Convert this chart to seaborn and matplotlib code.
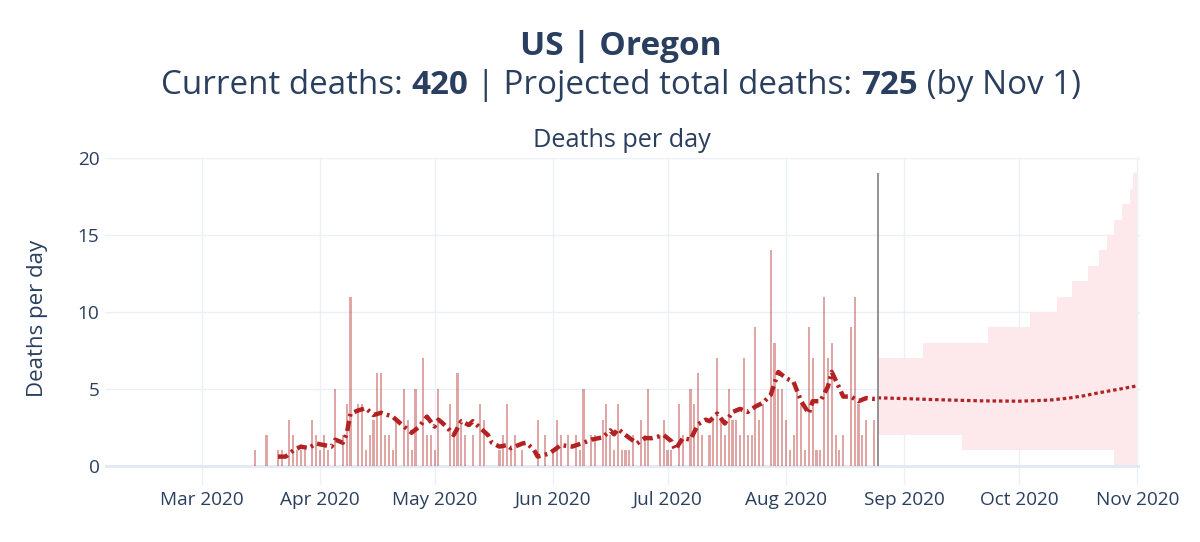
import numpy as np
import pandas as pd
import matplotlib
matplotlib.use("Agg")
import matplotlib.pyplot as plt
import matplotlib.dates as mdates
import seaborn as sns

# ── data ────────────────────────────────────────────────
FIRST_DAY = "2020-03-15"
daily_deaths = [
    1, 0, 0, 2, 0, 0, 1, 1, 0, 3, 2, 1, 1, 1, 0, 3, 2,            # Mar 15-31
    1, 2, 1, 0, 5, 0, 2, 4, 11, 0, 4, 4, 1, 2, 3, 6, 6, 2, 2, 1,  # Apr 1-20
    3, 0, 5, 3, 1, 5, 0, 7, 2, 2,                                 # Apr 21-30
    1, 5, 0, 0, 4, 2, 6, 3, 2, 0, 2, 0, 4, 3, 0, 0, 0, 1, 2, 4,   # May 1-20
    1, 2, 0, 1, 0, 0, 0, 3, 0, 2, 0,                              # May 21-31
    1, 3, 2, 0, 2, 0, 2, 1, 5, 0, 2, 2, 0, 3, 4, 2, 1, 4, 1, 1,   # Jun 1-20
    1, 2, 0, 3, 2, 5, 0, 0, 2, 3,                                 # Jun 21-30
    1, 1, 0, 4, 2, 0, 5, 4, 6, 2, 0, 2, 3, 7, 3, 2, 5, 3, 3, 2,   # Jul 1-20
    7, 2, 2, 9, 3, 4, 0, 14, 8, 5, 5,                             # Jul 21-31
    3, 1, 2, 5, 4, 1, 9, 7, 1, 1, 11, 7, 8, 2, 1, 2, 0, 9, 11, 4, # Aug 1-20
    2, 3, 0, 3,                                                   # Aug 21-24
]

avg_dates = [
    "2020-03-21", "2020-03-23", "2020-03-25", "2020-03-27", "2020-03-29", "2020-03-31",
    "2020-04-02", "2020-04-04", "2020-04-05", "2020-04-07", "2020-04-08", "2020-04-09",
    "2020-04-11", "2020-04-13", "2020-04-15", "2020-04-17", "2020-04-20", "2020-04-23",
    "2020-04-25", "2020-04-27", "2020-04-29", "2020-05-01", "2020-05-02", "2020-05-03",
    "2020-05-05", "2020-05-06", "2020-05-07", "2020-05-08", "2020-05-10", "2020-05-11",
    "2020-05-13", "2020-05-15", "2020-05-16", "2020-05-18", "2020-05-20", "2020-05-21",
    "2020-05-24", "2020-05-25", "2020-05-27", "2020-05-28", "2020-05-31", "2020-06-02",
    "2020-06-03", "2020-06-06", "2020-06-09", "2020-06-11", "2020-06-12", "2020-06-14",
    "2020-06-16", "2020-06-17", "2020-06-18", "2020-06-20", "2020-06-23", "2020-06-25",
    "2020-06-27", "2020-06-30", "2020-07-02", "2020-07-03", "2020-07-05", "2020-07-07",
    "2020-07-09", "2020-07-11", "2020-07-12", "2020-07-14", "2020-07-16", "2020-07-18",
    "2020-07-20", "2020-07-22", "2020-07-24", "2020-07-26", "2020-07-28", "2020-07-30",
    "2020-08-01", "2020-08-03", "2020-08-05", "2020-08-07", "2020-08-08", "2020-08-10",
    "2020-08-12", "2020-08-13", "2020-08-15", "2020-08-16", "2020-08-18", "2020-08-20",
    "2020-08-22", "2020-08-24", "2020-08-25",
]
avg_values = [
    0.6, 0.6, 1.0, 1.25, 1.15, 1.45,
    1.35, 1.25, 1.7, 1.5, 2.1, 3.4,
    3.6, 3.75, 3.3, 3.45, 3.2, 2.55,
    2.15, 2.55, 3.2, 2.55, 3.0, 2.8,
    2.3, 2.0, 2.45, 2.9, 2.65, 2.9,
    2.45, 2.0, 1.5, 1.25, 1.35, 1.15,
    1.45, 1.5, 1.05, 0.6, 0.8, 1.15,
    1.35, 1.25, 1.5, 1.7, 1.75, 1.85,
    2.3, 2.05, 2.4, 2.0, 1.45, 1.8,
    1.8, 2.0, 1.6, 1.05, 1.8, 1.7,
    2.7, 3.0, 2.9, 3.4, 2.75, 3.5,
    3.7, 3.5, 3.85, 4.1, 4.6, 6.1,
    5.7, 5.45, 4.2, 3.4, 4.2, 4.2,
    5.15, 6.1, 5.05, 4.5, 4.5, 4.2,
    4.4, 4.35, 4.35,
]

LAST_DATA_DAY = "2020-08-25"
proj_dates = ["2020-08-25", "2020-09-01", "2020-09-08", "2020-09-15", "2020-09-22",
              "2020-10-01", "2020-10-09", "2020-10-14", "2020-10-18", "2020-10-22",
              "2020-10-27", "2020-11-01"]
proj_values = [4.42, 4.37, 4.31, 4.26, 4.22, 4.2, 4.27, 4.4, 4.55, 4.75, 4.97, 5.2]

band_dates = ["2020-08-25", "2020-09-06", "2020-09-16", "2020-09-23", "2020-10-04",
              "2020-10-11", "2020-10-15", "2020-10-19", "2020-10-22", "2020-10-24",
              "2020-10-26", "2020-10-28", "2020-10-30", "2020-10-31", "2020-11-01"]
band_upper = [7, 8, 8, 9, 10, 11, 12, 13, 14, 15, 16, 17, 18, 19, 19]
band_lower = [2, 2, 1, 1, 1, 1, 1, 1, 1, 1, 0, 0, 0, 0, 0]

month_ticks = ["2020-03-01", "2020-04-01", "2020-05-01", "2020-06-01", "2020-07-01",
               "2020-08-01", "2020-09-01", "2020-10-01", "2020-11-01"]

# ── style ───────────────────────────────────────────────
sns.set_theme(style="white")
plt.rcParams["font.family"] = ["Open Sans", "DejaVu Sans"]
TEXT = "#2a3f5f"
GRID = "#ebf0f8"
RED = "#b22222"

bars = pd.DataFrame({"date": pd.date_range(FIRST_DAY, periods=len(daily_deaths), freq="D"),
                     "deaths": daily_deaths})
avg = pd.DataFrame({"date": pd.to_datetime(avg_dates), "avg": avg_values})
proj = pd.DataFrame({"date": pd.to_datetime(proj_dates), "deaths": proj_values})
band = pd.DataFrame({"date": pd.to_datetime(band_dates), "lo": band_lower, "hi": band_upper})

fig = plt.figure(figsize=(12, 5.42), dpi=100, facecolor="white")
ax = fig.add_axes([0.0875, 0.105, 0.8625, 0.6035])

ax.fill_between(band["date"], band["lo"], band["hi"], step="post",
                color="#fde8ec", linewidth=0, zorder=1)
ax.axhline(0, color="#e3e9f3", lw=2, zorder=1.5)
ax.bar(bars["date"], bars["deaths"], width=0.55, color=RED, alpha=0.4,
       linewidth=0, zorder=2)
sns.lineplot(data=avg, x="date", y="avg", ax=ax, color=RED, lw=3.2,
             linestyle=(0, (2.3, 1.0, 0.6, 1.0)), zorder=3)
sns.lineplot(data=proj, x="date", y="deaths", ax=ax, color=RED, lw=2.3,
             linestyle=(0, (1.1, 0.9)), zorder=3)
ax.vlines(pd.Timestamp(LAST_DATA_DAY), 0, 19, color="#8a8a8a", lw=1.3, zorder=4)

ax.set_xlim(pd.Timestamp("2020-02-04 17:00"), pd.Timestamp("2020-11-01 17:00"))
ax.set_ylim(-1.25, 20)
ax.set_yticks([0, 5, 10, 15, 20])
ax.set_xticks(pd.to_datetime(month_ticks))
ax.xaxis.set_major_formatter(mdates.DateFormatter("%b %Y"))
ax.grid(True, color=GRID, lw=1)
ax.set_axisbelow(True)
for s in ax.spines.values():
    s.set_visible(False)
ax.tick_params(length=0, labelsize=13.7, labelcolor=TEXT)
ax.tick_params(axis="x", pad=4)
ax.tick_params(axis="y", pad=4)
ax.set_xlabel("")
ax.set_ylabel("")

fig.text(0.031, 1 - 318 / 542, "Deaths per day", rotation=90, ha="center", va="center",
         fontsize=16, color=TEXT)
fig.text(0.5185, 1 - 140 / 542, "Deaths per day", ha="center", va="center",
         fontsize=18.2, color=TEXT)
fig.text(0.5175, 1 - 55 / 542, "US | Oregon", ha="center", va="baseline",
         fontsize=24, fontweight="bold", color=TEXT)

# subtitle with bold numbers, laid out piece by piece
pieces = [("Current deaths: ", "normal"), ("420", "bold"),
          (" | Projected total deaths: ", "normal"), ("725", "bold"),
          (" (by Nov 1)", "normal")]
renderer = fig.canvas.get_renderer()
texts = [fig.text(0, 1 - 94 / 542, s, fontsize=23.9, fontweight=w, color=TEXT,
                  va="baseline", ha="left") for s, w in pieces]
widths = [t.get_window_extent(renderer).width for t in texts]
x = 0.5175 * fig.bbox.width - sum(widths) / 2
for t, w in zip(texts, widths):
    t.set_x(x / fig.bbox.width)
    x += w

fig.savefig("out.png", dpi=100, facecolor="white")
